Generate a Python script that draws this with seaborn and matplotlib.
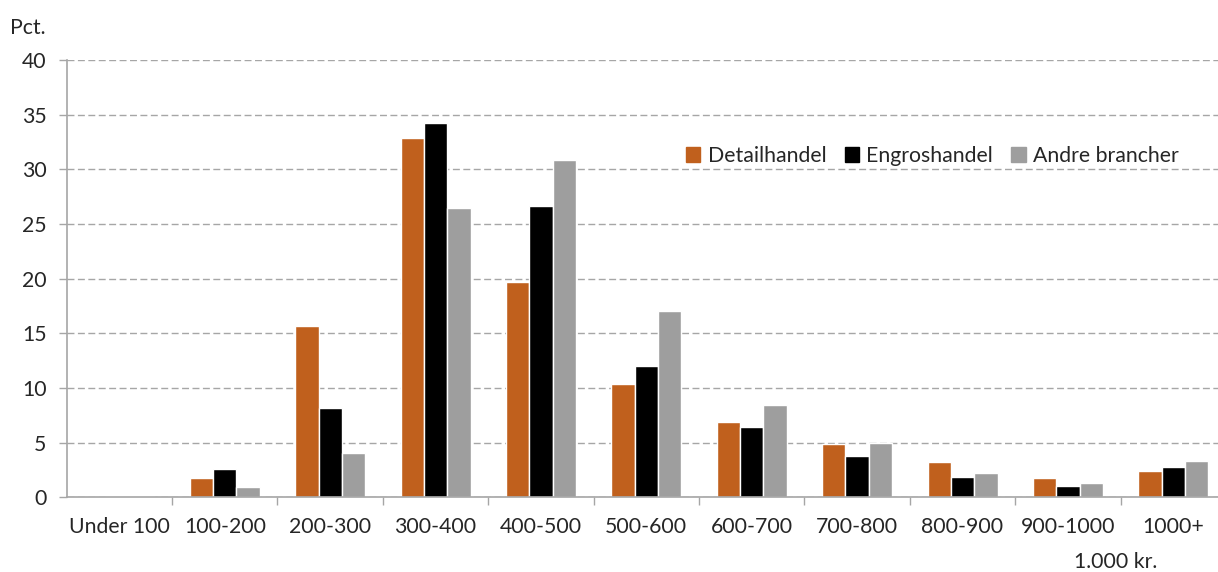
import matplotlib
matplotlib.use("Agg")
import matplotlib.pyplot as plt
import seaborn as sns
import pandas as pd
from matplotlib.ticker import FixedLocator, NullFormatter

categories = ["Under 100", "100-200", "200-300", "300-400", "400-500", "500-600",
              "600-700", "700-800", "800-900", "900-1000", "1000+"]
detailhandel = [0.0, 1.74, 15.7, 32.84, 19.7, 10.4, 6.86, 4.88, 3.2, 1.74, 2.41]
engroshandel = [0.12, 2.56, 8.14, 34.27, 26.65, 11.98, 6.4, 3.78, 1.83, 1.03, 2.8]
andre_brancher = [0.09, 0.91, 4.08, 26.5, 30.86, 17.0, 8.41, 5.0, 2.2, 1.28, 3.29]
series_names = ["Detailhandel", "Engroshandel", "Andre brancher"]
y_ticks = [0, 5, 10, 15, 20, 25, 30, 35, 40]

rows = []
for name, vals in zip(series_names, [detailhandel, engroshandel, andre_brancher]):
    for c, v in zip(categories, vals):
        rows.append({"cat": c, "val": v, "series": name})
df = pd.DataFrame(rows)

sns.set_style("white")
plt.rcParams["font.family"] = ["Lato", "DejaVu Sans"]

W, H = 1218, 572
fig = plt.figure(figsize=(W / 100, H / 100), dpi=100)
left, right, bottom, top = 66.7, 1226.0, 497.3, 60.1
ax = fig.add_axes([left / W, 1 - bottom / H, (right - left) / W, (bottom - top) / H])

colors = ["#C0601D", "#000000", "#9E9E9E"]
sns.barplot(data=df, x="cat", y="val", hue="series", palette=colors, width=0.664,
            saturation=1, ax=ax, order=categories, hue_order=series_names, gap=0)

ax.set_xlim(-0.5, len(categories) - 0.5)
ax.set_ylim(0, 40)
ax.set_yticks(y_ticks)
ax.set_yticklabels([str(t) for t in y_ticks])
ax.set_xlabel("")
ax.set_ylabel("")

grid_color = "#A6A6A6"
ax.yaxis.grid(True, color=grid_color, linestyle=(0, (5, 2.5)), linewidth=1.0)
ax.set_axisbelow(True)
for s in ["top", "right"]:
    ax.spines[s].set_visible(False)
for s in ["left", "bottom"]:
    ax.spines[s].set_color(grid_color)
    ax.spines[s].set_linewidth(1.2)

fs = 15.3
ax.tick_params(axis="y", direction="out", length=5.5, color=grid_color, width=1.0,
               labelsize=fs, pad=9, left=True)
ax.tick_params(axis="x", which="major", length=0, labelsize=fs, pad=14)
ax.xaxis.set_minor_locator(FixedLocator([i + 0.5 for i in range(len(categories))]))
ax.xaxis.set_minor_formatter(NullFormatter())
ax.tick_params(axis="x", which="minor", direction="out", length=5.5, color=grid_color,
               width=1.0, bottom=True)

ax.get_legend().remove()
handles = [plt.Rectangle((0, 0), 1, 1, color=c) for c in colors]
fig.legend(handles, series_names, loc="center left",
           bbox_to_anchor=(686 / W, 1 - 156 / H), ncol=3, frameon=False,
           fontsize=fs, handlelength=0.68, handleheight=0.68, handletextpad=0.35,
           columnspacing=0.85, borderaxespad=0, borderpad=0)

fig.text(10 / W, 1 - 28 / H, "Pct.", fontsize=fs, ha="left", va="center")
fig.text(1157 / W, 1 - 562 / H, "1.000 kr.", fontsize=fs, ha="right", va="center")

fig.savefig("out.png", dpi=100)
